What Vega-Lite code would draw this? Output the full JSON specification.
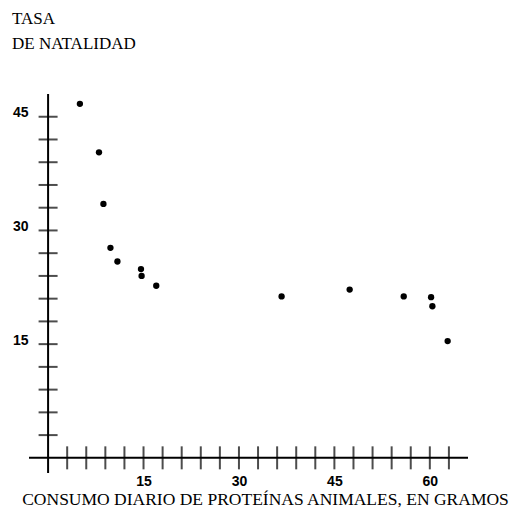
{
  "$schema": "https://vega.github.io/schema/vega-lite/v6.json",
  "width": 439,
  "height": 379,
  "autosize": {"type": "none"},
  "padding": {"left": 29, "top": 94, "right": 48, "bottom": 35},
  "background": "white",
  "title": {
    "text": ["TASA", "DE NATALIDAD"],
    "anchor": "start",
    "frame": "group",
    "dx": -17,
    "font": "Liberation Serif",
    "fontSize": 17,
    "fontWeight": "normal",
    "color": "black",
    "lineHeight": 25,
    "offset": 40
  },
  "config": {"view": {"stroke": null}},
  "datasets": {
    "puntos": [
      {"proteina": 5.0, "natalidad": 46.7},
      {"proteina": 8.0, "natalidad": 40.3},
      {"proteina": 8.7, "natalidad": 33.5},
      {"proteina": 9.8, "natalidad": 27.7},
      {"proteina": 10.9, "natalidad": 25.9},
      {"proteina": 14.6, "natalidad": 24.9},
      {"proteina": 14.7, "natalidad": 24.0},
      {"proteina": 17.0, "natalidad": 22.7},
      {"proteina": 36.7, "natalidad": 21.3},
      {"proteina": 47.4, "natalidad": 22.2},
      {"proteina": 55.9, "natalidad": 21.3},
      {"proteina": 60.2, "natalidad": 21.2},
      {"proteina": 60.4, "natalidad": 20.0},
      {"proteina": 62.8, "natalidad": 15.4}
    ],
    "origen": [{"proteina": 0, "natalidad": 0}],
    "marcasY": [
      {"natalidad": 3}, {"natalidad": 6}, {"natalidad": 9}, {"natalidad": 12}, {"natalidad": 15},
      {"natalidad": 18}, {"natalidad": 21}, {"natalidad": 24}, {"natalidad": 27}, {"natalidad": 30},
      {"natalidad": 33}, {"natalidad": 36}, {"natalidad": 39}, {"natalidad": 42}, {"natalidad": 45}
    ],
    "marcasX": [
      {"proteina": 3}, {"proteina": 6}, {"proteina": 9}, {"proteina": 12}, {"proteina": 15},
      {"proteina": 18}, {"proteina": 21}, {"proteina": 24}, {"proteina": 27}, {"proteina": 30},
      {"proteina": 33}, {"proteina": 36}, {"proteina": 39}, {"proteina": 42}, {"proteina": 45},
      {"proteina": 48}, {"proteina": 51}, {"proteina": 54}, {"proteina": 57}, {"proteina": 60},
      {"proteina": 63}
    ]
  },
  "encoding": {
    "x": {
      "type": "quantitative",
      "scale": {"domain": [-3, 66], "nice": false, "zero": false},
      "axis": {
        "values": [15, 30, 45, 60],
        "domain": false,
        "ticks": false,
        "tickSize": 0,
        "grid": false,
        "labelPadding": 1,
        "labelFont": "Liberation Sans",
        "labelFontSize": 14,
        "labelFontWeight": "bold",
        "labelColor": "black",
        "title": "CONSUMO DIARIO DE PROTEÍNAS ANIMALES, EN GRAMOS",
        "titleFont": "Liberation Serif",
        "titleFontSize": 17.5,
        "titleFontWeight": "normal",
        "titleColor": "black",
        "titlePadding": 2,
        "titleX": 236
      }
    },
    "y": {
      "type": "quantitative",
      "scale": {"domain": [-2, 48], "nice": false, "zero": false},
      "axis": {
        "values": [15, 30, 45],
        "domain": false,
        "ticks": false,
        "tickSize": 0,
        "grid": false,
        "labelPadding": 1,
        "labelOffset": -4,
        "labelFont": "Liberation Sans",
        "labelFontSize": 14,
        "labelFontWeight": "bold",
        "labelColor": "black",
        "title": null
      }
    }
  },
  "layer": [
    {
      "data": {"name": "origen"},
      "mark": {"type": "rule", "color": "black", "strokeWidth": 2},
      "encoding": {
        "x": {"field": "proteina", "type": "quantitative"}
      }
    },
    {
      "data": {"name": "origen"},
      "mark": {"type": "rule", "color": "black", "strokeWidth": 2},
      "encoding": {
        "y": {"field": "natalidad", "type": "quantitative"}
      }
    },
    {
      "data": {"name": "marcasY"},
      "mark": {"type": "tick", "orient": "horizontal", "color": "black", "thickness": 2, "size": 19},
      "encoding": {
        "y": {"field": "natalidad", "type": "quantitative"},
        "x": {"datum": 0, "type": "quantitative"}
      }
    },
    {
      "data": {"name": "marcasX"},
      "mark": {"type": "tick", "orient": "vertical", "color": "black", "thickness": 2, "size": 23},
      "encoding": {
        "x": {"field": "proteina", "type": "quantitative"},
        "y": {"datum": 0, "type": "quantitative"}
      }
    },
    {
      "data": {"name": "puntos"},
      "mark": {"type": "circle", "color": "black", "opacity": 1, "size": 40},
      "encoding": {
        "x": {"field": "proteina", "type": "quantitative"},
        "y": {"field": "natalidad", "type": "quantitative"}
      }
    }
  ]
}
